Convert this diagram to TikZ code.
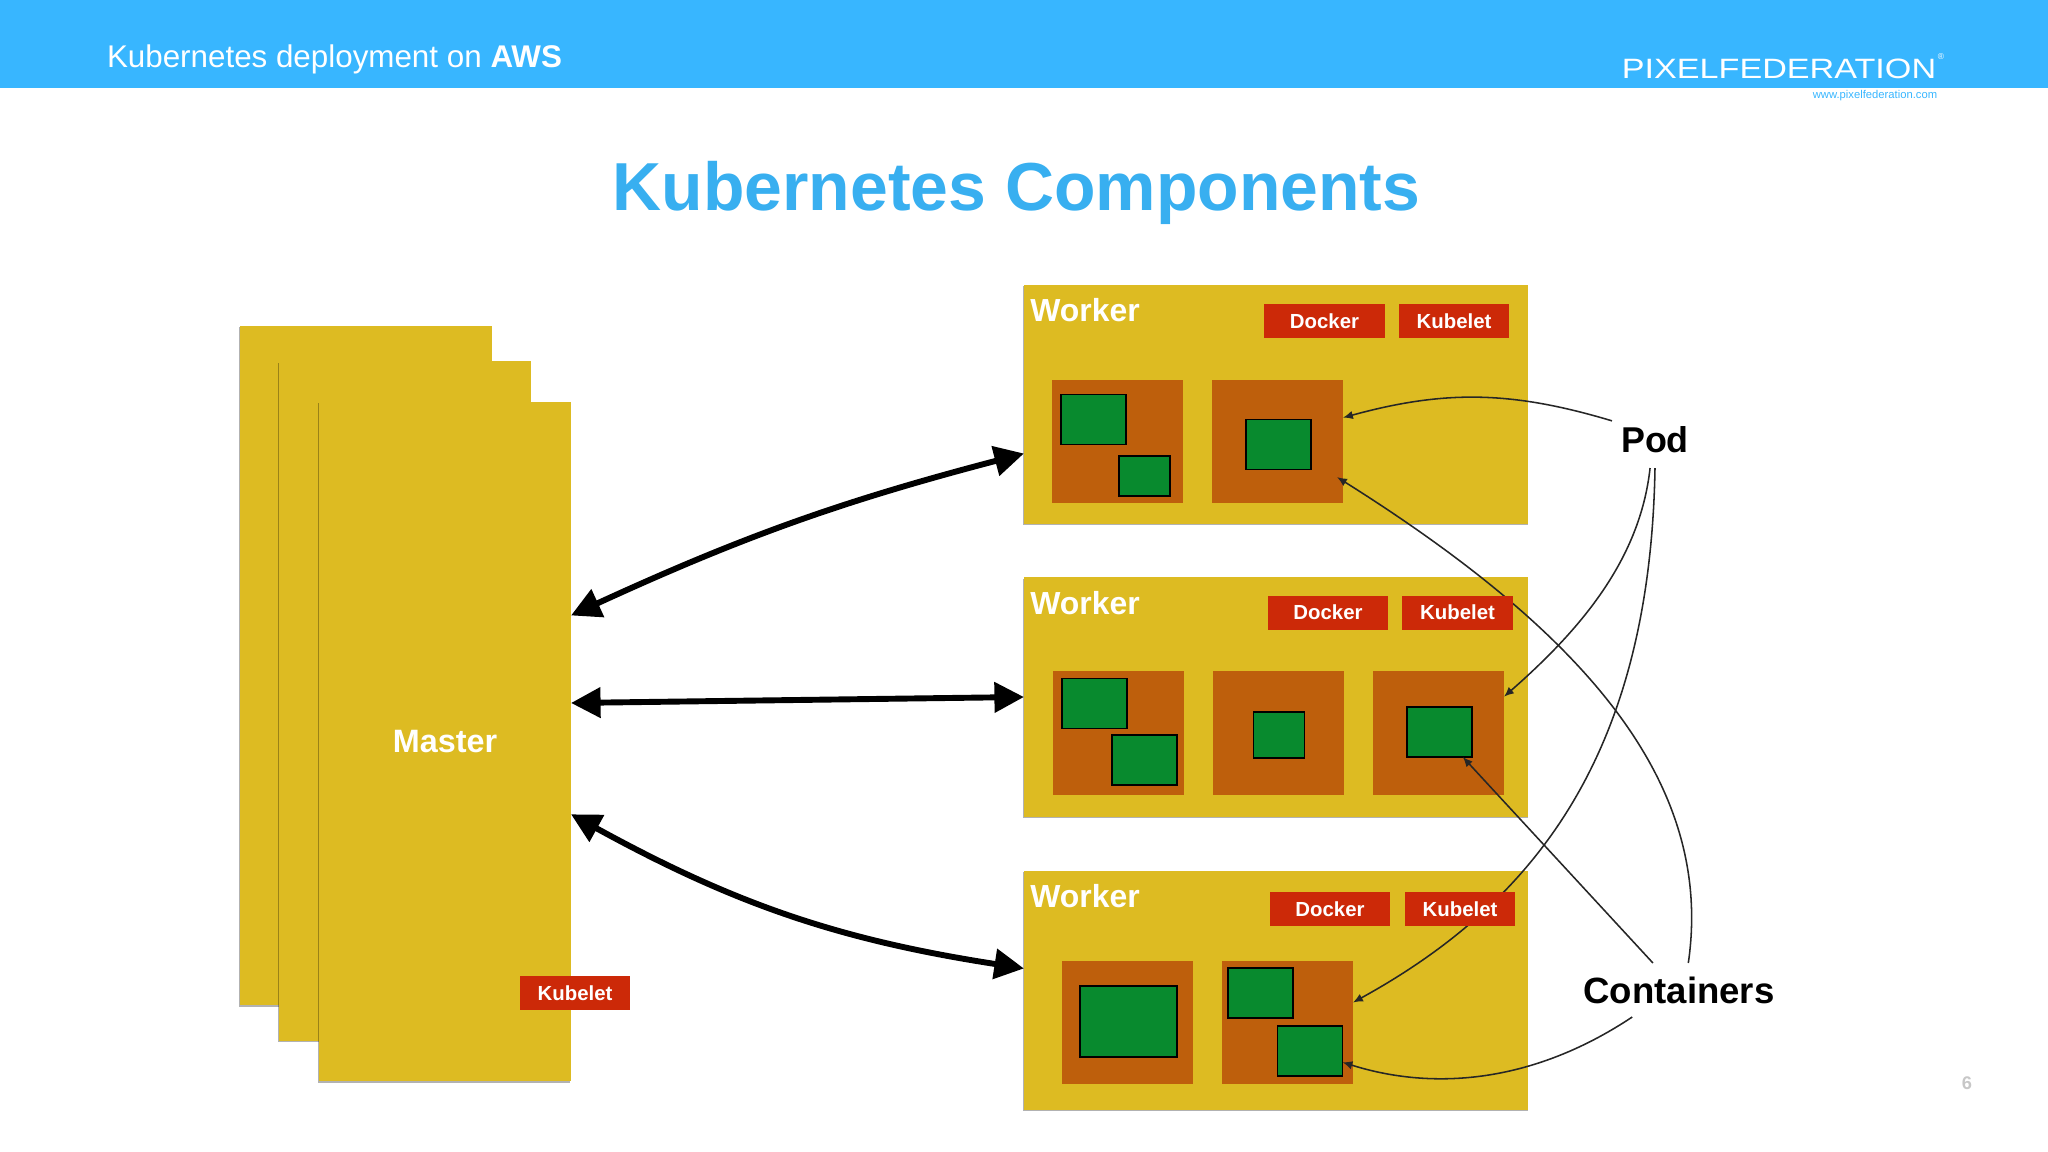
\documentclass[tikz,border=0pt]{standalone}
\usepackage{fontspec}
\setmainfont{Liberation Sans}
\usetikzlibrary{arrows.meta,shadows}
\definecolor{barblue}{HTML}{38B6FF}
\definecolor{titleblue}{HTML}{38AFF0}
\definecolor{sheetyellow}{HTML}{DDBB22}
\definecolor{podbrown}{HTML}{BE5F0C}
\definecolor{boxgreen}{HTML}{088A2E}
\definecolor{tagred}{HTML}{CC2908}
\tikzset{
	flat/.style={inner sep=0pt, outer sep=0pt},
	softshadow/.style={drop shadow={shadow xshift=-0.4pt, shadow yshift=-1pt, opacity=0.3, fill=black}},
	sheet/.style={flat, fill=sheetyellow, softshadow, text=white, font=\fontsize{23}{27}\selectfont\bfseries, minimum width=6.3cm, minimum height=16.975cm},
	worker/.style={flat, fill=sheetyellow, softshadow, minimum width=12.6cm, minimum height=5.975cm},
	wrktext/.style={flat, text=white, font=\fontsize{22.7}{27}\selectfont\bfseries},
	pod/.style={flat, fill=podbrown, minimum width=3.275cm, minimum height=3.075cm},
	cont/.style={flat, draw=black, line width=1.3pt, fill=boxgreen, minimum width=1.625cm, minimum height=1.25cm},
	contsmall/.style={cont, minimum width=1.275cm, minimum height=1cm},
	contbig/.style={cont, minimum width=2.425cm, minimum height=1.775cm},
	docker/.style={flat, fill=tagred, text=white, font=\fontsize{14.5}{17}\selectfont\bfseries, minimum width=3cm, minimum height=0.85cm},
	kubelet/.style={docker, minimum width=2.75cm},
	callout/.style={flat, text=black, font=\fontsize{25.5}{30}\selectfont\bfseries},
	link/.style={{Triangle[length=21pt,width=21pt]}-{Triangle[length=21pt,width=21pt]}, line width=4.2pt},
	thin/.style={-{Latex[length=7pt,width=6pt]}, line width=1.1pt, color=black!85},
}
\begin{document}
\begin{tikzpicture}[x=0.025cm, y=-0.025cm]
	\useasboundingbox (0,0) rectangle (2048,1152);

	% header
	\fill[barblue] (0,0) rectangle (2048,88);
	\node[flat, anchor=west, text=white, font=\fontsize{22.3}{26}\selectfont] (deck) at (107,59) {Kubernetes deployment on \textbf{AWS}};
	\node[flat, text=white, font=\fontsize{19.9}{24}\selectfont] (logo) at (1779,69) {\scalebox{1.22}[1]{PIXELFEDERATION}};
	\node[flat, text=white, font=\fontsize{6}{7}\selectfont] (mark) at (1941,57) {®};
	\node[flat, text=barblue, font=\fontsize{8}{10}\selectfont] (site) at (1875,96) {www.pixelfederation.com};
	\node[flat, text=titleblue, font=\fontsize{48.3}{58}\selectfont\bfseries] (title) at (1016.5,193) {Kubernetes Components};
	\node[flat, text=black!22, font=\fontsize{13}{15}\selectfont\bfseries] (page) at (1967,1083) {6};

	% master
	\node[sheet] (back) at (366,665.5) {};
	\node[sheet] (mid) at (405,701) {};
	\node[sheet] (mstr) at (445,741.5) {Master};
	\node[kubelet] (mkub) at (575,993) {Kubelet};

	% workers
	\node[worker] (wrk1) at (1276,404.5) {};
	\node[worker] (wrk2) at (1276,697) {};
	\node[worker] (wrk3) at (1276,990.5) {};
	\node[wrktext] (wt1) at (1085,310) {Worker};
	\node[wrktext] (wt2) at (1085,603) {Worker};
	\node[wrktext] (wt3) at (1085,896) {Worker};

	\node[pod] (pod11) at (1117.5,441.5) {};
	\node[pod] (pod12) at (1277.5,441.5) {};
	\node[pod] (pod21) at (1118.5,733) {};
	\node[pod] (pod22) at (1278.5,733) {};
	\node[pod] (pod23) at (1438.5,733) {};
	\node[pod] (pod31) at (1127.5,1022.5) {};
	\node[pod] (pod32) at (1287.5,1022.5) {};

	\node[cont] (c11) at (1093.5,419.5) {};
	\node[contsmall] (c12) at (1144.5,476) {};
	\node[cont] (c13) at (1278.5,444.5) {};
	\node[cont] (c21) at (1094.5,703.5) {};
	\node[cont] (c22) at (1144.5,760) {};
	\node[contsmall, minimum height=1.15cm] (c23) at (1279,735) {};
	\node[cont] (c24) at (1439.5,732) {};
	\node[contbig] (c31) at (1128.5,1021.5) {};
	\node[cont] (c32) at (1260.5,993) {};
	\node[cont] (c33) at (1310,1051) {};

	% labels on the right
	\node[callout, minimum width=2.15cm, minimum height=1.4cm] (podl) at (1655,440) {Pod};
	\node[callout, font=\fontsize{26}{30}\selectfont\bfseries, minimum width=5cm, minimum height=1.35cm] (conl) at (1679,990) {Containers};

	\draw[thin, bend right=16] (podl.156) to (pod12.20);
	\draw[thin] (podl.260) .. controls (1640,560) and (1580,630) .. (pod23.29);
	\draw[thin] (podl.south) .. controls (1650,760) and (1530,905) .. (pod32.17);
	\draw[thin] (conl.134) to (c24.-47);
	\draw[thin, shorten >=-5pt] (conl.71) .. controls (1715,780) and (1580,630) .. (pod12.-31);
	\draw[thin] (conl.210) .. controls (1530,1085) and (1430,1090) .. (c33.-19);

	% tags sit over the thin lines
	\node[docker] (dock1) at (1324.5,321) {Docker};
	\node[kubelet] (kub1) at (1454,321) {Kubelet};
	\node[docker] (dock2) at (1328,612.5) {Docker};
	\node[kubelet] (kub2) at (1457.5,612.5) {Kubelet};
	\node[docker] (dock3) at (1330,909) {Docker};
	\node[kubelet] (kub3) at (1460,909) {Kubelet};

	\draw[link, bend left=5] (mstr.45.5) to (wrk1.191.9);
	\draw[link] (mstr.17.9) to (wrk2.180.4);
	\draw[link, bend right=10] (mstr.-30.7) to (wrk3.175.3);
\end{tikzpicture}
\end{document}
